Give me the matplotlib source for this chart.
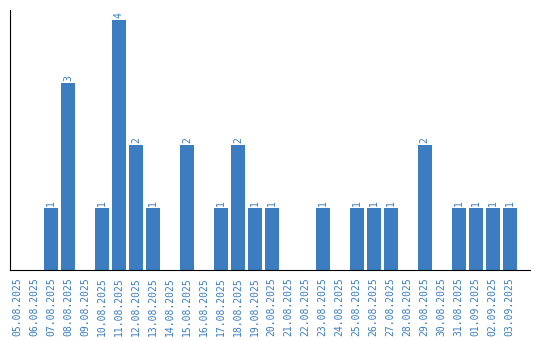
import matplotlib
matplotlib.use("Agg")
import matplotlib.pyplot as plt

dates = ["05.08.2025", "06.08.2025", "07.08.2025", "08.08.2025", "09.08.2025",
         "10.08.2025", "11.08.2025", "12.08.2025", "13.08.2025", "14.08.2025",
         "15.08.2025", "16.08.2025", "17.08.2025", "18.08.2025", "19.08.2025",
         "20.08.2025", "21.08.2025", "22.08.2025", "23.08.2025", "24.08.2025",
         "25.08.2025", "26.08.2025", "27.08.2025", "28.08.2025", "29.08.2025",
         "30.08.2025", "31.08.2025", "01.09.2025", "02.09.2025", "03.09.2025"]
counts = [0, 0, 1, 3, 0, 1, 4, 2, 1, 0,
          2, 0, 1, 2, 1, 1, 0, 0, 1, 0,
          1, 1, 1, 0, 2, 0, 1, 1, 1, 1]

blue = "#3b7dc0"

fig = plt.figure(figsize=(5.4, 3.4), dpi=100)
ax = fig.add_axes([0.0194, 0.206, 0.9616, 0.764])

x = range(len(dates))
ax.bar(x, counts, width=0.82, color=blue)

for i, v in zip(x, counts):
    if v > 0:
        ax.text(i, v + 0.03, str(v), rotation=90, ha="center", va="bottom",
                color=blue, fontsize=7, family="DejaVu Sans Mono")

ax.set_xticks(list(x))
ax.set_xticklabels(dates, rotation=90, color=blue, fontsize=7,
                   family="DejaVu Sans Mono", va="top")
ax.tick_params(axis="x", length=0, pad=5)
ax.set_yticks([])
ax.set_xlim(-0.38, 30.18)
ax.set_ylim(0, 4.16)
ax.spines["top"].set_visible(False)
ax.spines["right"].set_visible(False)

fig.savefig("out.png", dpi=100)
